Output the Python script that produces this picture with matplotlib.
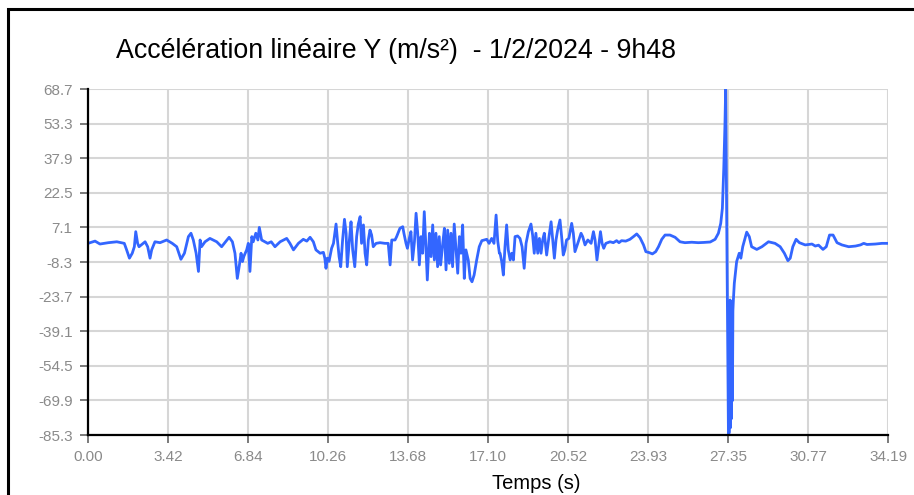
import numpy as np
import matplotlib
matplotlib.use("Agg")
import matplotlib.pyplot as plt
from matplotlib.patches import Rectangle

plt.rcParams["font.family"] = ["Liberation Sans", "DejaVu Sans"]

# ── Data (time in s, accel in m/s²) ────────────────────────────────────────────
t_a = [0.00, 0.30, 0.51, 0.87, 1.23, 1.55, 1.65, 1.77, 1.89, 1.98,
       2.04, 2.12, 2.18, 2.30, 2.44, 2.55, 2.65, 2.72, 2.86, 3.08,
       3.36, 3.60, 3.79, 3.97]
v_a = [0.0, 1.0, -0.3, 0.3, 0.7, 0.0, -2.9, -6.6, -4.4, -1.5,
       5.2, 0.0, -1.5, -0.5, 0.7, -1.5, -6.6, -2.9, 0.7, 0.3,
       1.5, 0.0, -1.5, -7.1]

t_b = [4.12, 4.29, 4.40, 4.50, 4.62, 4.72, 4.79, 4.85, 5.00, 5.21,
       5.50, 5.71, 5.88, 6.03, 6.17, 6.28, 6.38, 6.47, 6.54, 6.60,
       6.66, 6.78, 6.85, 6.92, 7.00, 7.06, 7.17, 7.26, 7.32, 7.42,
       7.56, 7.68, 7.83, 7.99, 8.21, 8.49, 8.63, 8.78, 8.99]
v_b = [-4.4, 3.0, 4.5, 1.5, -4.4, -12.5, 1.5, -1.5, 0.7, 2.2,
       0.7, -1.5, 0.7, 2.7, 0.7, -4.4, -15.6, -9.6, -4.4, -8.1,
       -5.8, -2.9, 0.0, -12.5, 3.0, 0.7, 4.5, 1.5, 7.1, 1.5,
       0.7, 0.0, 0.7, -1.5, 0.7, 2.2, 0.0, -2.9, 0.0]

t_c = [9.20, 9.35, 9.49, 9.63, 9.74, 9.92, 10.06, 10.12, 10.17, 10.23,
       10.30, 10.41, 10.49, 10.60, 10.66, 10.73, 10.80, 10.88, 10.96, 11.03,
       11.08, 11.17, 11.24, 11.31, 11.40, 11.48, 11.55, 11.63, 11.69, 11.77,
       11.84, 11.91, 11.98, 12.05, 12.12, 12.19, 12.31, 12.48, 12.69, 12.83,
       12.91, 12.98, 13.12, 13.19, 13.33, 13.45, 13.50, 13.59, 13.65]
v_c = [1.8, 1.0, 2.7, 0.7, -2.9, -4.4, -4.0, -6.6, -11.1, -6.6,
       -8.0, -2.2, 0.0, 8.6, 1.5, -5.9, -10.4, 1.5, 10.7, 4.5,
       -10.4, 1.5, 9.6, -2.9, -10.4, 3.0, 8.6, 11.9, 0.0, 8.2,
       -4.4, -9.6, 1.5, 5.9, 3.7, -1.5, 0.0, 0.3, 0.0, 0.0,
       -9.6, 1.5, 1.5, 3.0, 6.7, 7.4, 4.5, 0.0, -2.2]

t_d = [13.73, 13.80, 13.87, 13.95, 14.02, 14.09, 14.16, 14.23, 14.30, 14.37,
       14.44, 14.50, 14.59, 14.66, 14.73, 14.80, 14.87, 14.94, 15.01, 15.07,
       15.16, 15.23, 15.30, 15.37, 15.44, 15.51, 15.58, 15.65, 15.72, 15.80,
       15.87, 15.94, 16.01, 16.08, 16.15, 16.25, 16.33, 16.41, 16.50, 16.61,
       16.72, 16.83, 17.04, 17.14, 17.25, 17.35, 17.44, 17.51, 17.58]
v_d = [2.2, 5.2, -7.4, 0.7, 13.4, 4.5, -9.6, 3.0, -4.4, 14.1,
       -1.5, -16.3, 4.5, -5.9, 8.2, -7.4, 4.5, -10.4, 3.0, -9.6,
       0.0, 6.7, -11.8, 5.9, -8.9, 4.5, -10.4, 8.6, -1.5, -13.3,
       3.0, -4.4, 8.2, -15.6, -2.9, -7.4, -15.6, -17.1, -14.1, -7.4,
       -1.5, 1.2, 1.8, 0.0, 2.2, 0.0, 12.6, 1.0, -4.4]

t_e = [17.61, 17.68, 17.75, 17.82, 17.89, 17.96, 18.04, 18.11, 18.18, 18.25,
       18.36, 18.46, 18.55, 18.64, 18.72, 18.82, 18.93, 19.00, 19.07, 19.14,
       19.22, 19.29, 19.36, 19.43, 19.50, 19.60, 19.70, 19.79, 19.86, 19.93,
       20.00, 20.07, 20.17, 20.24, 20.31, 20.38, 20.45, 20.55, 20.67, 20.74,
       20.81, 20.93, 21.07, 21.14, 21.24, 21.36, 21.50, 21.60, 21.67, 21.75,
       21.82, 21.90, 21.97, 22.04, 22.13]
v_e = [-4.4, -8.1, -14.1, -1.5, 8.2, -2.9, -7.4, -4.4, -7.4, 3.0,
       3.3, 2.2, -1.5, -11.1, 0.0, 5.2, 8.6, 3.7, -4.4, 4.5,
       -4.4, 2.2, -4.4, 1.5, 4.5, -5.2, 3.0, 9.6, 1.5, -6.6,
       1.5, 5.9, 10.4, 3.0, -5.2, -2.9, 1.5, 2.2, 8.9, 4.5,
       -3.7, 0.0, 4.5, 3.0, -0.7, 1.5, 0.0, 5.2, 1.5, -7.4,
       -1.5, 5.2, 0.0, -2.2, 0.0]

t_f = [22.31, 22.45, 22.59, 22.69, 22.80, 22.98, 23.16, 23.31, 23.45, 23.59,
       23.74, 23.84, 23.98, 24.12, 24.26, 24.38, 24.52, 24.66, 24.87, 25.09,
       25.30, 25.51, 25.80, 26.08, 26.30, 26.59, 26.80, 26.94, 27.04, 27.11]
v_f = [0.7, 0.3, 1.2, 0.3, 1.2, 1.0, 1.8, 3.0, 4.2, 2.5,
       -0.7, -3.7, -4.1, -4.7, -3.7, -1.5, 1.8, 3.7, 3.7, 2.7,
       0.7, 0.3, 0.5, 0.3, 0.4, 0.6, 1.8, 4.5, 8.9, 15.6]

# impact spike
t_g = [27.17, 27.22, 27.25, 27.31, 27.37, 27.41, 27.44, 27.46, 27.48, 27.50,
       27.52, 27.54, 27.56, 27.58, 27.62]
v_g = [33.4, 52.7, 68.7, -10.0, -85.3, -84.0, -25.2, -82.0, -40.0, -78.0,
       -35.0, -70.0, -30.0, -25.2, -17.8]

t_h = [27.72, 27.83, 27.90, 27.98, 28.15, 28.26, 28.36, 28.58, 28.80, 29.08,
       29.36, 29.58, 29.76, 29.91, 30.01, 30.12, 30.26, 30.40, 30.65, 30.94,
       31.08, 31.22, 31.41, 31.55, 31.69, 31.84, 32.01, 32.22, 32.51, 32.80,
       33.01, 33.15, 33.29, 33.65, 33.93, 34.19]
v_h = [-8.1, -4.4, -6.6, -1.5, 5.0, 3.0, -1.5, -2.7, -1.5, 0.7,
       0.0, -1.5, -4.4, -7.7, -6.6, -1.5, 1.8, 0.3, -0.7, -0.3,
       -1.2, -0.8, -2.7, -1.5, 3.7, 3.7, 0.3, -0.7, -1.5, -1.2,
       -0.7, 0.0, -0.5, -0.3, 0.0, 0.0]

x_ticks = [0.00, 3.42, 6.84, 10.26, 13.68, 17.10, 20.52, 23.93, 27.35, 30.77, 34.19]
x_labels = ["0.00", "3.42", "6.84", "10.26", "13.68", "17.10", "20.52",
            "23.93", "27.35", "30.77", "34.19"]
y_ticks = [-85.3, -69.9, -54.5, -39.1, -23.7, -8.3, 7.1, 22.5, 37.9, 53.3, 68.7]
y_labels = ["-85.3", "-69.9", "-54.5", "-39.1", "-23.7", "-8.3", "7.1",
            "22.5", "37.9", "53.3", "68.7"]

t = np.concatenate([t_a, t_b, t_c, t_d, t_e, t_f, t_g, t_h])
acc = np.concatenate([v_a, v_b, v_c, v_d, v_e, v_f, v_g, v_h])

# ── Figure ──────────────────────────────────────────────────────────────────────
fig = plt.figure(figsize=(9.14, 4.95), dpi=100)
ax = fig.add_axes([0.0963, 0.1212, 0.8753, 0.699])

ax.plot(t, acc, color="#3366ff", lw=2.0, solid_joinstyle="round", zorder=3)

ax.set_xlim(x_ticks[0], x_ticks[-1])
ax.set_ylim(y_ticks[0], y_ticks[-1])
ax.set_xticks(x_ticks)
ax.set_xticklabels(x_labels)
ax.set_yticks(y_ticks)
ax.set_yticklabels(y_labels)

ax.grid(True, color="#d6d6d6", lw=1.5, zorder=0)
ax.set_axisbelow(True)
for side in ("top", "right"):
    ax.spines[side].set_visible(False)
for side in ("left", "bottom"):
    ax.spines[side].set_color("black")
    ax.spines[side].set_linewidth(1.6)
    ax.spines[side].set_zorder(4)

ax.tick_params(axis="both", colors="#7a7a7a", labelcolor="#8a8a8a",
               length=6, width=1.4, labelsize=11, pad=5)

fig.text(0.4333, 0.897, "Accélération linéaire Y (m/s²)  - 1/2/2024 - 9h48",
         ha="center", va="center", fontsize=19.3, color="black")
fig.text(0.5864, 0.024, "Temps (s)", ha="center", va="center",
         fontsize=14.5, color="black")

# outer frame (right/bottom edges fall outside the canvas)
fig.patches.append(Rectangle((0.0091, -0.2), 1.3, 1.181, transform=fig.transFigure,
                             fill=False, edgecolor="black", lw=2.2))

fig.savefig("out.png", dpi=100)
